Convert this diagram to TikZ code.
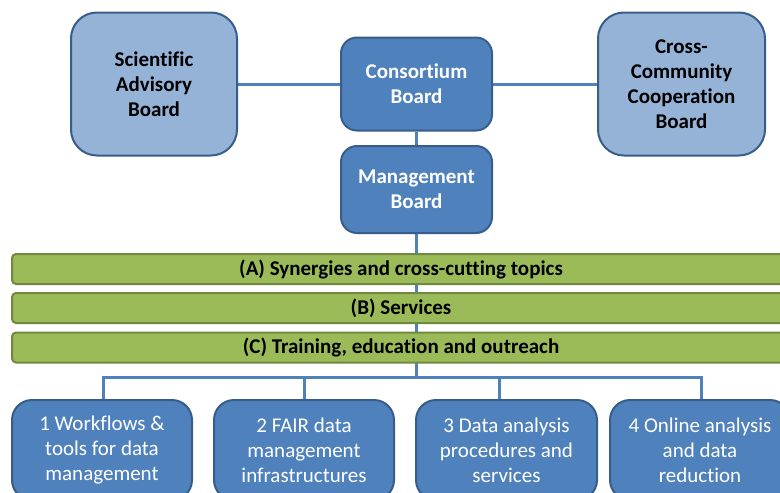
\documentclass[tikz,border=0pt]{standalone}
\usepackage{fontspec}
\setmainfont[Ligatures=CommonOff]{Carlito}
\usetikzlibrary{backgrounds}
\definecolor{dblue}{HTML}{4F81BD}
\definecolor{dbord}{HTML}{385D8A}
\definecolor{lblue}{HTML}{95B3D7}
\definecolor{lgreen}{HTML}{9BBB59}
\definecolor{gbord}{HTML}{71893F}
\tikzset{
  box/.style={draw=dbord, line width=2pt, align=center, inner sep=2pt,
    font=\fontsize{21}{25}\selectfont},
  lightbox/.style={box, fill=lblue, text=black, rounded corners=26pt,
    font=\bfseries\fontsize{21}{25}\selectfont},
  darkbox/.style={box, fill=dblue, text=white, rounded corners=16pt,
    font=\bfseries\fontsize{21}{25}\selectfont},
  wpbox/.style={box, fill=dblue, text=white, rounded corners=20pt},
  bar/.style={draw=gbord, line width=2pt, fill=lgreen, rounded corners=4pt,
    minimum width=778pt, minimum height=30pt, inner sep=0pt,
    font=\bfseries\fontsize{21}{25}\selectfont},
  link/.style={draw=dblue, line width=3pt}
}
\begin{document}
\begin{tikzpicture}[x=1pt,y=-1pt]
\useasboundingbox (0,0) rectangle (780,493);
\clip (0,0) rectangle (780,493);
\node[lightbox, minimum width=166pt, minimum height=143pt] (sab) at (154,84) {Scientific\\Advisory\\Board};
\node[darkbox, minimum width=151pt, minimum height=93pt] (cb) at (416.5,84) {Consortium\\Board};
\node[darkbox, minimum width=151pt, minimum height=87pt] (mb) at (416.5,189.5) {Management\\Board};
\node[lightbox, minimum width=167pt, minimum height=143pt] (ccb) at (681.5,84) {Cross-\\Community\\Cooperation\\Board};
\node[bar] (ba) at (401,269) {(A) Synergies and cross-cutting topics};
\node[bar] (bb) at (401,308) {(B) Services};
\node[bar] (bc) at (401,347.5) {(C) Training, education and outreach};
\node[wpbox, minimum width=180pt, minimum height=100pt] (w1) at (102,450) {1 Workflows \&\\tools for data\\management};
\node[wpbox, minimum width=180pt, minimum height=100pt] (w2) at (304,450) {2 FAIR data\\management\\infrastructures};
\node[wpbox, minimum width=181pt, minimum height=100pt] (w3) at (506.5,450) {3 Data analysis\\procedures and\\services};
\node[wpbox, minimum width=180pt, minimum height=100pt] (w4) at (700,450) {4 Online analysis\\and data\\reduction};
\coordinate (hub) at (416.5,377);
\coordinate (j1) at (103,377);
\coordinate (j2) at (304,377);
\coordinate (j3) at (499,377);
\coordinate (j4) at (701,377);
\begin{scope}[on background layer]
\draw[link] (sab.east) -- (cb.west);
\draw[link] (cb.east) -- (ccb.west);
\draw[link] (cb.south) -- (mb.north);
\draw[link] (mb.south) -- (hub);
\draw[link, line cap=rect] (j1) -- (j4);
\draw[link] (j1) -- (j1 |- w1.north);
\draw[link] (j2) -- (j2 |- w2.north);
\draw[link] (j3) -- (j3 |- w3.north);
\draw[link] (j4) -- (j4 |- w4.north);
\end{scope}
\end{tikzpicture}
\end{document}
